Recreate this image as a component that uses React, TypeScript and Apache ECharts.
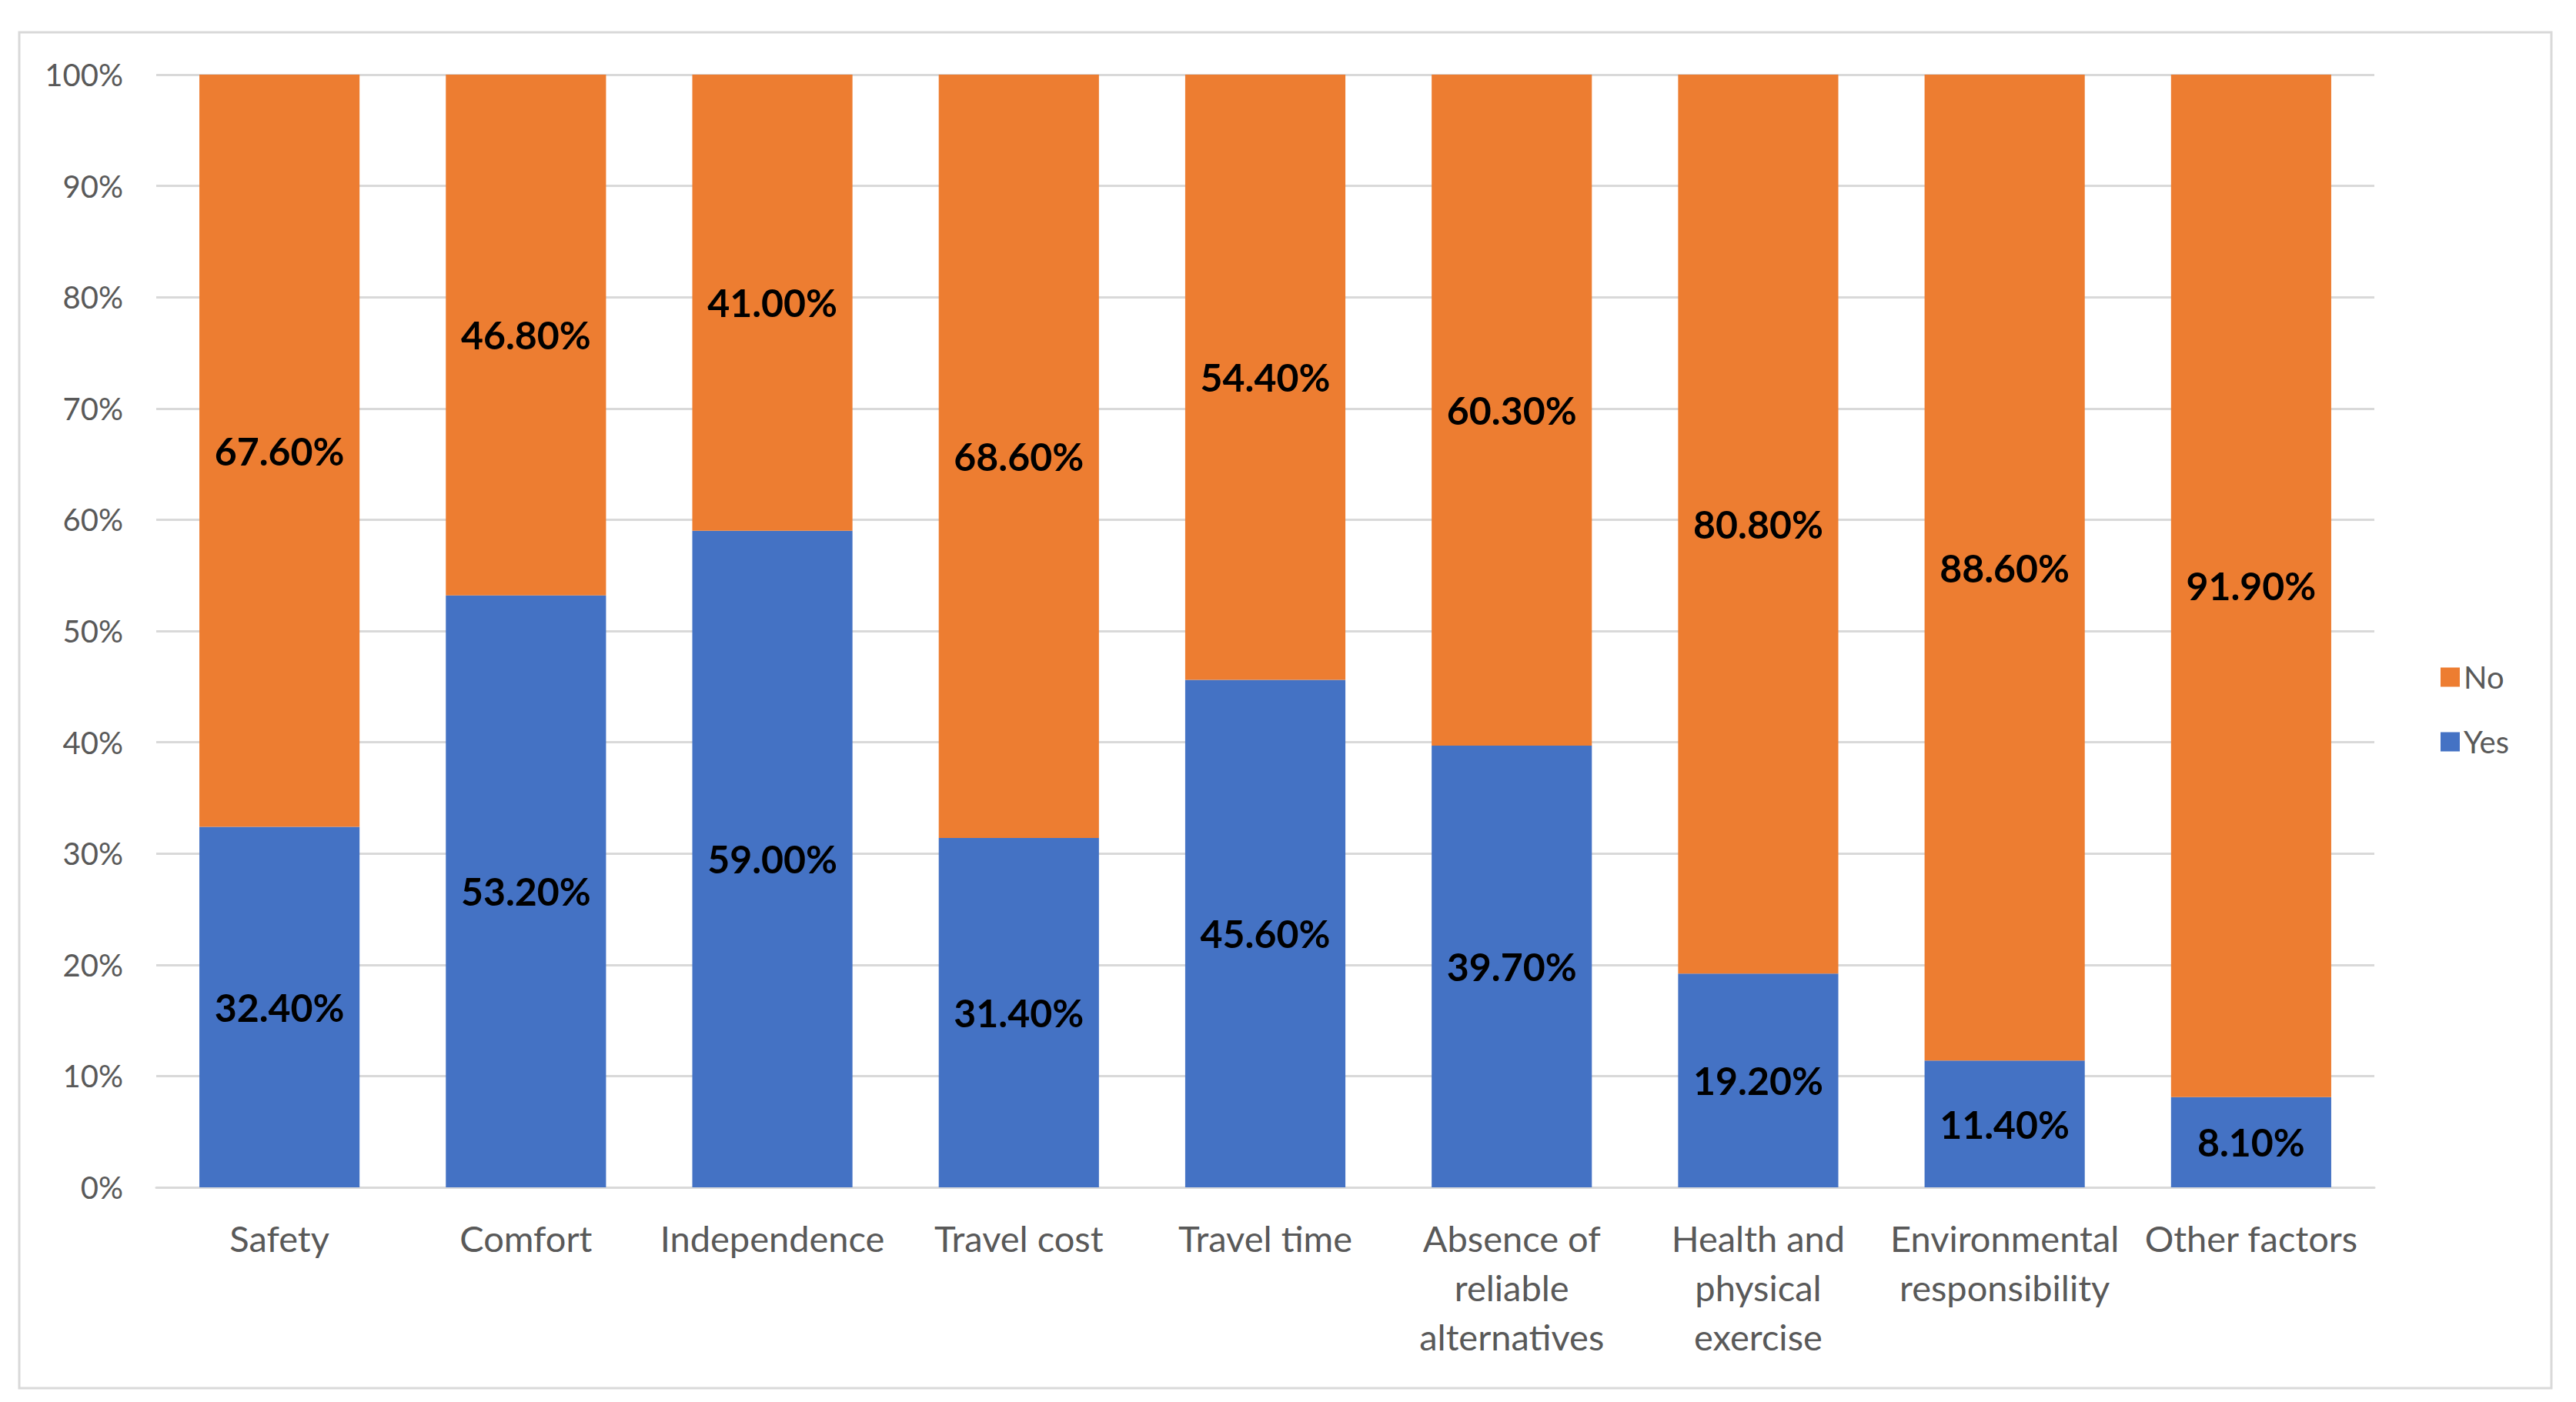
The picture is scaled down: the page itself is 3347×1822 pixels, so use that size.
import React, { useEffect, useRef } from "react";
import * as echarts from "echarts";

const categories = [
  "Safety",
  "Comfort",
  "Independence",
  "Travel cost",
  "Travel time",
  "Absence of\nreliable\nalternatives",
  "Health and\nphysical\nexercise",
  "Environmental\nresponsibility",
  "Other factors",
];
const yesValues = [32.4, 53.2, 59.0, 31.4, 45.6, 39.7, 19.2, 11.4, 8.1];
const noValues = [67.6, 46.8, 41.0, 68.6, 54.4, 60.3, 80.8, 88.6, 91.9];
const seriesNames = ["Yes", "No"];

const FONT = "Lato, 'Liberation Sans', sans-serif";

export default function App() {
  const ref = useRef<HTMLDivElement>(null);
  useEffect(() => {
    document.body.style.margin = "0";
    const chart = echarts.init(ref.current!, undefined, { renderer: "svg" });
    const labelStyle = {
      show: true,
      position: "inside",
      color: "#000000",
      fontWeight: "bold",
      fontSize: 50,
      fontFamily: FONT,
      formatter: (p: any) => `${Number(p.value).toFixed(2)}%`,
    };
    chart.setOption({
      animation: false,
      backgroundColor: "#ffffff",
      textStyle: { fontFamily: FONT },
      graphic: [
        {
          type: "rect",
          shape: { x: 25, y: 42, width: 3290, height: 1762 },
          style: { fill: "none", stroke: "#d9d9d9", lineWidth: 3 },
          silent: true,
        },
      ],
      grid: { left: 203, right: 262, top: 97, bottom: 279, containLabel: false },
      legend: {
        orient: "vertical",
        left: 3166,
        top: 855,
        data: ["No", "Yes"],
        icon: "rect",
        itemWidth: 25,
        itemHeight: 25,
        itemGap: 44,
        textStyle: { fontSize: 40, color: "#595959", fontFamily: FONT, lineHeight: 40 },
      },
      xAxis: {
        type: "category",
        data: categories,
        axisLine: { show: true, lineStyle: { color: "#d9d9d9", width: 3 } },
        axisTick: { show: false },
        axisLabel: {
          interval: 0,
          fontSize: 47,
          lineHeight: 64,
          color: "#595959",
          fontFamily: FONT,
          margin: 34,
        },
      },
      yAxis: {
        type: "value",
        min: 0,
        max: 100,
        interval: 10,
        axisLine: { show: false },
        axisTick: { show: false },
        splitLine: { lineStyle: { color: "#d9d9d9", width: 3 } },
        axisLabel: {
          formatter: "{value}%",
          fontSize: 40,
          color: "#595959",
          fontFamily: FONT,
          margin: 43,
        },
      },
      series: [
        {
          name: seriesNames[0],
          type: "bar",
          stack: "total",
          data: yesValues,
          barCategoryGap: "35%",
          itemStyle: { color: "#4472C4" },
          label: labelStyle,
        },
        {
          name: seriesNames[1],
          type: "bar",
          stack: "total",
          data: noValues,
          barCategoryGap: "35%",
          itemStyle: { color: "#ED7D31" },
          label: labelStyle,
        },
      ],
    });
    return () => chart.dispose();
  }, []);
  return <div ref={ref} style={{ width: 3347, height: 1822 }} />;
}
